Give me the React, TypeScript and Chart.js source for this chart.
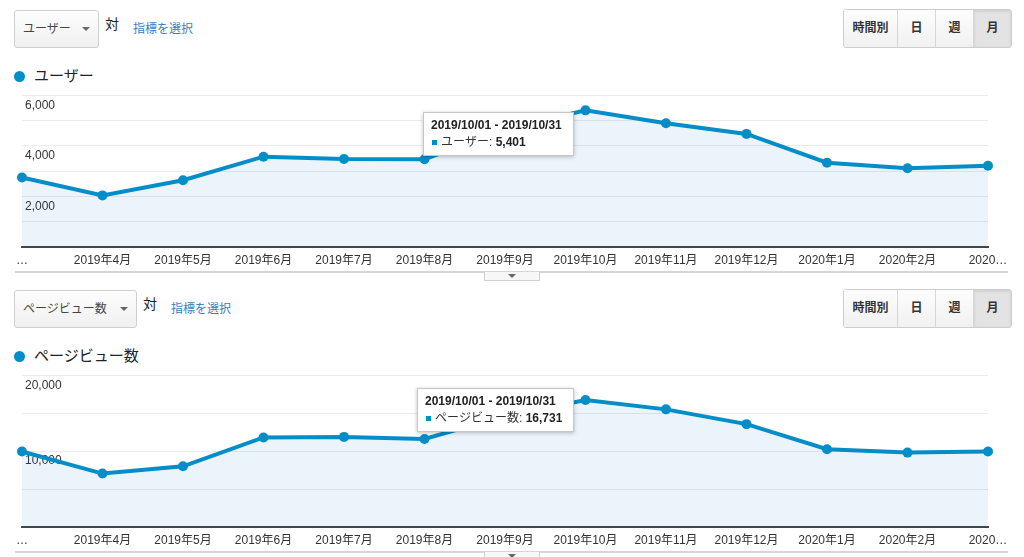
import React, { useEffect, useRef } from "react";
import { Chart, registerables } from "chart.js";

Chart.register(...registerables);

const FONT = '"Liberation Sans", Arial, "Noto Sans CJK JP", sans-serif';
const BLUE = "#058DC7";
const FILL = "rgba(0,100,200,0.08)";

const months = [
  "2019年3月", "2019年4月", "2019年5月", "2019年6月", "2019年7月", "2019年8月",
  "2019年9月", "2019年10月", "2019年11月", "2019年12月", "2020年1月", "2020年2月", "2020年3月",
];
const tickLabels = [
  "…", "2019年4月", "2019年5月", "2019年6月", "2019年7月", "2019年8月",
  "2019年9月", "2019年10月", "2019年11月", "2019年12月", "2020年1月", "2020年2月", "2020…",
];
const users = [2750, 2040, 2640, 3570, 3480, 3470, 4650, 5401, 4890, 4470, 3330, 3110, 3210];
const pageviews = [9950, 7040, 8000, 11800, 11870, 11600, 14600, 16731, 15500, 13550, 10250, 9800, 9940];
const periods = ["時間別", "日", "週", "月"];
const tipIndex = 7;
const tipTitle = "2019/10/01 - 2019/10/31";

const tipPlugin = {
  id: "fixedTip",
  afterDatasetsDraw(chart: any, _args: any, opts: any) {
    if (!opts || opts.index == null) return;
    const pt = chart.getDatasetMeta(0).data[opts.index];
    if (!pt) return;
    const ctx = chart.ctx;
    ctx.save();
    const bold = `bold 12px ${FONT}`;
    const norm = `12px ${FONT}`;
    ctx.font = bold;
    const tw = ctx.measureText(opts.title).width;
    ctx.font = norm;
    const lw = ctx.measureText(opts.label + ": ").width;
    ctx.font = bold;
    const vw = ctx.measureText(opts.value).width;
    const w = Math.round(Math.max(tw, 10 + lw + vw) + 20);
    const h = 44;
    const right = Math.round(pt.x - 12);
    const left = right - w;
    const top = Math.round(pt.y + opts.dy);
    ctx.shadowColor = "rgba(0,0,0,0.25)";
    ctx.shadowBlur = 4;
    ctx.shadowOffsetY = 1;
    ctx.fillStyle = "#fff";
    ctx.fillRect(left, top, w, h);
    ctx.shadowColor = "transparent";
    ctx.shadowBlur = 0;
    ctx.shadowOffsetY = 0;
    ctx.strokeStyle = "rgba(0,0,0,0.22)";
    ctx.lineWidth = 1;
    ctx.strokeRect(left + 0.5, top + 0.5, w - 1, h - 1);
    ctx.textBaseline = "middle";
    ctx.textAlign = "left";
    ctx.fillStyle = "#222";
    ctx.font = bold;
    ctx.fillText(opts.title, left + 8, top + 14);
    ctx.fillStyle = BLUE;
    ctx.fillRect(left + 9, top + 28, 5, 5);
    ctx.fillStyle = "#333";
    ctx.font = norm;
    ctx.fillText(opts.label + ": ", left + 18, top + 30.5);
    ctx.fillStyle = "#222";
    ctx.font = bold;
    ctx.fillText(opts.value, left + 18 + lw, top + 30.5);
    ctx.restore();
  },
};

function makeConfig(values: number[], label: string, max: number, step: number, labelStep: number, dy: number): any {
  const font = { family: FONT, size: 12 };
  return {
    type: "line",
    data: {
      labels: months,
      datasets: [
        {
          label,
          data: values,
          borderColor: BLUE,
          backgroundColor: FILL,
          fill: "origin",
          borderWidth: 4,
          pointRadius: 5,
          pointBackgroundColor: BLUE,
          pointBorderColor: BLUE,
          pointBorderWidth: 0,
          tension: 0,
        },
      ],
    },
    options: {
      animation: false,
      responsive: false,
      maintainAspectRatio: false,
      events: [],
      layout: { padding: { left: 16, right: 36, top: 10, bottom: 0 } },
      plugins: {
        legend: { display: false },
        tooltip: { enabled: false },
        fixedTip: {
          index: tipIndex,
          title: tipTitle,
          label,
          value: values[tipIndex].toLocaleString("en-US"),
          dy,
        },
      },
      scales: {
        x: {
          offset: false,
          grid: { display: false, drawTicks: false },
          border: { display: true, color: "#444", width: 2 },
          ticks: {
            autoSkip: false,
            maxRotation: 0,
            minRotation: 0,
            padding: 6,
            color: "#333",
            font,
            callback: (_v: any, i: number) => tickLabels[i],
          },
          afterFit: (s: any) => {
            s.height = 24;
          },
        },
        y: {
          position: "left",
          min: 0,
          max,
          ticks: { stepSize: step, display: false },
          grid: { color: "#ebebeb", drawTicks: false, lineWidth: 1 },
          border: { display: false },
        },
        yl: {
          position: "left",
          min: 0,
          max,
          z: 1,
          grid: { display: false, drawTicks: false },
          border: { display: false },
          ticks: {
            stepSize: labelStep,
            mirror: true,
            padding: 3,
            labelOffset: 10,
            color: "#333",
            font,
            textStrokeColor: "#fff",
            textStrokeWidth: 3,
            callback: (v: any) => (Number(v) === 0 ? "" : Number(v).toLocaleString("en-US")),
          },
        },
      },
    },
    plugins: [tipPlugin],
  };
}

function LineChart({ top, values, label, max, step, labelStep, dy }: any) {
  const ref = useRef<HTMLCanvasElement | null>(null);
  useEffect(() => {
    if (!ref.current) return;
    const chart = new Chart(ref.current, makeConfig(values, label, max, step, labelStep, dy));
    return () => chart.destroy();
  }, []);
  return (
    <canvas
      ref={ref}
      width={1024}
      height={186}
      style={{ position: "absolute", left: 0, top: top + 85, width: 1024, height: 186 }}
    />
  );
}

function Header({ top, metric, ddWidth }: any) {
  const widths = [54, 38, 38, 38];
  return (
    <>
      <div
        style={{
          position: "absolute",
          left: 14,
          top: top + 10,
          width: ddWidth,
          height: 38,
          boxSizing: "border-box",
          border: "1px solid #cfcfcf",
          borderRadius: 3,
          background: "linear-gradient(#fdfdfd,#f0f0f0)",
          fontSize: 12,
          lineHeight: "36px",
          paddingLeft: 8,
          color: "#444",
        }}
      >
        {metric}
        <span
          style={{
            position: "absolute",
            right: 8,
            top: 16,
            width: 0,
            height: 0,
            borderLeft: "4px solid transparent",
            borderRight: "4px solid transparent",
            borderTop: "4px solid #666",
          }}
        />
      </div>
      <div style={{ position: "absolute", left: 14 + ddWidth + 6, top: top + 15, fontSize: 14, lineHeight: "18px", color: "#222" }}>
        対
      </div>
      <div style={{ position: "absolute", left: 14 + ddWidth + 34, top: top + 21, fontSize: 12, lineHeight: "16px", color: "#3b7dc1" }}>
        指標を選択
      </div>
      <div
        style={{
          position: "absolute",
          left: 843,
          top: top + 9,
          height: 39,
          boxSizing: "border-box",
          border: "1px solid #cdcdcd",
          borderRadius: 3,
          display: "flex",
          overflow: "hidden",
        }}
      >
        {periods.map((p, i) => (
          <div
            key={p}
            style={{
              width: widths[i] - (i === 0 ? 1 : 0),
              height: 37,
              boxSizing: "border-box",
              borderLeft: i === 0 ? "none" : "1px solid #d6d6d6",
              background: i === 3 ? "#e3e3e3" : "linear-gradient(#fdfdfd,#f1f1f1)",
              boxShadow: i === 3 ? "inset 0 1px 3px rgba(0,0,0,0.12)" : "none",
              fontSize: 12,
              fontWeight: "bold",
              color: "#333",
              textAlign: "center",
              lineHeight: "37px",
            }}
          >
            {p}
          </div>
        ))}
      </div>
      <div
        style={{
          position: "absolute",
          left: 13.5,
          top: top + 70.5,
          width: 11,
          height: 11,
          borderRadius: "50%",
          background: BLUE,
        }}
      />
      <div style={{ position: "absolute", left: 34, top: top + 66, fontSize: 15, lineHeight: "20px", color: "#222" }}>
        {metric}
      </div>
    </>
  );
}

function Footer({ top }: any) {
  return (
    <>
      <div style={{ position: "absolute", left: 15, top: top + 271, width: 993, height: 2, background: "#d6d6d6" }} />
      <div
        style={{
          position: "absolute",
          left: 484,
          top: top + 272,
          width: 56,
          height: 9,
          boxSizing: "border-box",
          borderLeft: "1px solid #cfcfcf",
          borderRight: "1px solid #cfcfcf",
          borderBottom: "1px solid #cfcfcf",
          background: "#f7f7f7",
        }}
      >
        <span
          style={{
            position: "absolute",
            left: 23,
            top: 2,
            width: 0,
            height: 0,
            borderLeft: "4.5px solid transparent",
            borderRight: "4.5px solid transparent",
            borderTop: "4px solid #666",
          }}
        />
      </div>
    </>
  );
}

export default function App() {
  return (
    <div
      style={{
        position: "absolute",
        left: 0,
        top: 0,
        width: 1024,
        height: 557,
        overflow: "hidden",
        background: "#fff",
        fontFamily: FONT,
      }}
    >
      <Header top={0} metric="ユーザー" ddWidth={85} />
      <LineChart top={0} values={users} label="ユーザー" max={6000} step={1000} labelStep={2000} dy={2} />
      <Footer top={0} />
      <Header top={280} metric="ページビュー数" ddWidth={123} />
      <LineChart top={280} values={pageviews} label="ページビュー数" max={20000} step={5000} labelStep={10000} dy={-12} />
      <Footer top={280} />
    </div>
  );
}
